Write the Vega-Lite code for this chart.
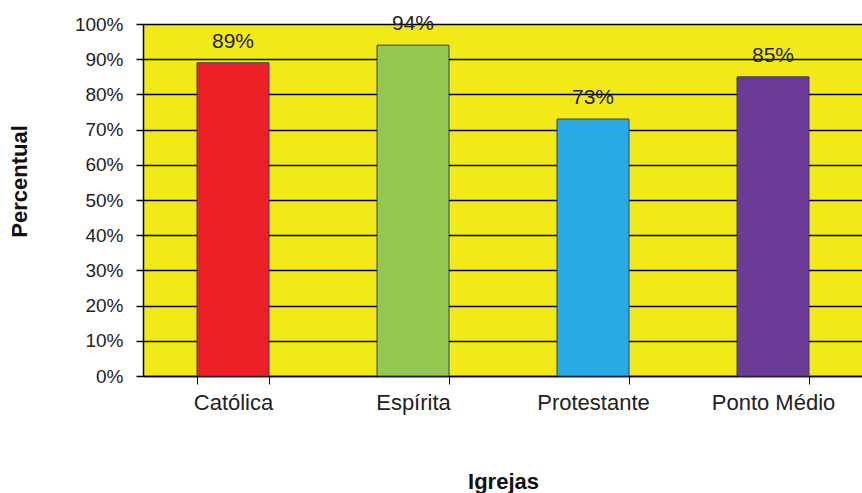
{
  "$schema": "https://vega.github.io/schema/vega-lite/v6.json",
  "autosize": {"type": "none"},
  "padding": {"left": 143, "top": 24, "right": 0, "bottom": 117},
  "width": 720,
  "height": 352,
  "background": "white",
  "config": {
    "font": "Liberation Sans",
    "view": {"fill": "#F2EA17", "stroke": "#A0A0A0", "strokeWidth": 1}
  },
  "data": {
    "values": [
      {"igreja": "Católica", "pct": 0.89, "cor": "#EE1F26"},
      {"igreja": "Espírita", "pct": 0.94, "cor": "#92C752"},
      {"igreja": "Protestante", "pct": 0.73, "cor": "#28ABE2"},
      {"igreja": "Ponto Médio", "pct": 0.85, "cor": "#6C3A97"}
    ]
  },
  "encoding": {
    "x": {
      "field": "igreja", "type": "nominal", "sort": null,
      "scale": {"paddingInner": 0.6, "paddingOuter": 0.3},
      "axis": {
        "title": "Igrejas", "titleFontSize": 22, "titleFontWeight": "bold",
        "titleColor": "#111", "titleY": 112, "titleBaseline": "alphabetic",
        "labelAngle": 0, "labelFontSize": 22, "labelColor": "#222", "labelPadding": 8,
        "labelOverlap": false,
        "tickBand": "extent", "tickColor": "#000", "tickSize": 8,
        "domainColor": "#000", "domainWidth": 1.5, "grid": false
      }
    },
    "y": {
      "field": "pct", "type": "quantitative",
      "scale": {"domain": [0, 1]},
      "axis": {
        "title": "Percentual", "titleFontSize": 22, "titleFontWeight": "bold", "titleColor": "#111",
        "titleX": -124, "titleY": 157, "titleAlign": "center", "titleBaseline": "middle", "titleAngle": 270,
        "format": ".0%", "values": [0,0.1,0.2,0.3,0.4,0.5,0.6,0.7,0.8,0.9,1],
        "labelFontSize": 19, "labelColor": "#222", "labelPadding": 13, "labelOverlap": false,
        "tickColor": "#000", "tickSize": 7, "tickWidth": 1.5,
        "domainColor": "#000", "domainWidth": 1.5, "grid": true, "gridColor": "#000", "gridWidth": 1.5, "gridOpacity": 1
      }
    }
  },
  "layer": [
    {
      "mark": {"type": "bar", "stroke": "#3B3F70", "strokeWidth": 1},
      "encoding": {"color": {"field": "cor", "type": "nominal", "scale": null}}
    },
    {
      "mark": {"type": "text", "baseline": "alphabetic", "dy": -15, "fontSize": 21, "color": "#222"},
      "encoding": {"text": {"field": "pct", "type": "quantitative", "format": ".0%"}}
    }
  ]
}
